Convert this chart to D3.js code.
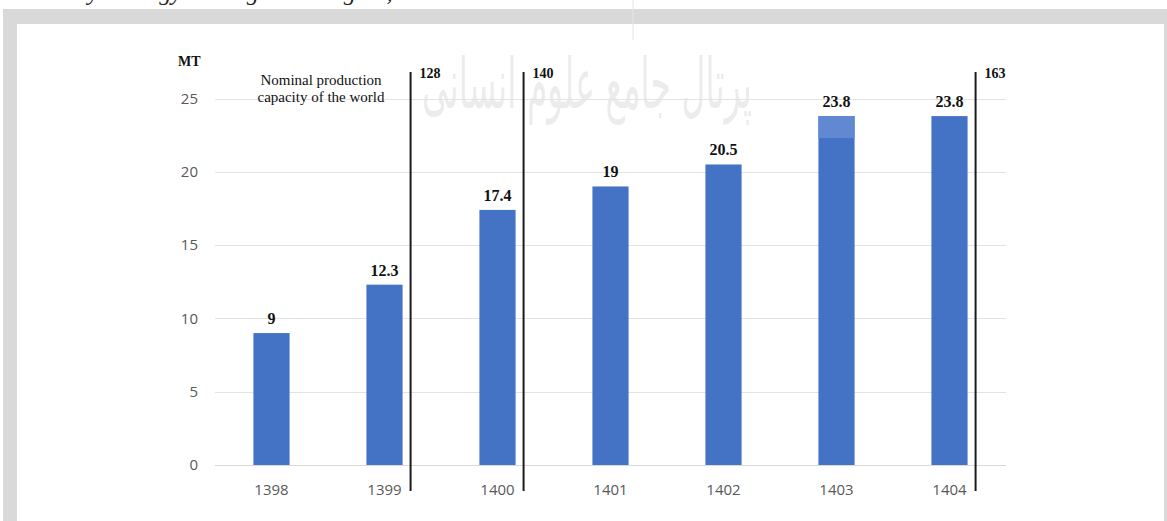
<!DOCTYPE html>
<html>
<head>
<meta charset="utf-8">
<script src="https://cdn.jsdelivr.net/npm/d3@7"></script>
<style>
  html, body { margin: 0; padding: 0; background: #fff; }
  svg { display: block; }
</style>
</head>
<body>
<svg id="chart" width="1167" height="521"></svg>
<script>
// ---- data ----
const years = ["1398", "1399", "1400", "1401", "1402", "1403", "1404"];
const production = [9, 12.3, 17.4, 19, 20.5, 23.8, 23.8];
const lighterFrom = [null, null, null, null, null, 22.3, null]; // lighter top segment start
const yTicks = [0, 5, 10, 15, 20, 25];
const capacityYears = ["1399", "1400", "1404"];
const capacityLabels = ["128", "140", "163"];
const unitLabel = "MT";
const noteLines = ["Nominal production", "capacity of the world"];

// ---- layout ----
const svg = d3.select("#chart");
const W = 1167, H = 521;

// page frame
svg.append("rect").attr("x", 0).attr("y", 0).attr("width", W).attr("height", H).attr("fill", "#fff");
svg.append("rect").attr("x", 3).attr("y", 9).attr("width", W - 3).attr("height", H - 9).attr("fill", "#d9d9d9");
svg.append("rect").attr("x", 17).attr("y", 24).attr("width", 1147).attr("height", H - 24).attr("fill", "#fff");

// clipped text of the page above (only descenders show)
svg.append("defs").append("clipPath").attr("id", "topclip")
  .append("rect").attr("x", 0).attr("y", 0).attr("width", W).attr("height", 9);
svg.append("text")
  .attr("clip-path", "url(#topclip)")
  .attr("x", 88).attr("y", 0)
  .attr("font-family", "Liberation Serif, serif")
  .attr("font-style", "italic")
  .attr("font-size", 24)
  .attr("fill", "#222")
  .text("y strategy making in the region, ");

// watermark
svg.append("text")
  .attr("x", 587).attr("y", 108)
  .attr("text-anchor", "middle")
  .attr("direction", "rtl")
  .attr("font-family", "DejaVu Sans, sans-serif")
  .attr("font-size", 70)
  .attr("fill", "#ececec")
  .attr("textLength", 330)
  .attr("lengthAdjust", "spacingAndGlyphs")
  .text("پرتال جامع علوم انسانی");
svg.append("line").attr("x1", 633).attr("x2", 633).attr("y1", 0).attr("y2", 40)
  .attr("stroke", "#e4e4e4").attr("stroke-width", 1);

const plot = { left: 215, right: 1006, top: 98.5, bottom: 465 };

const x = d3.scaleBand().domain(years).range([plot.left, plot.right]).paddingInner(0.68).paddingOuter(0.34);
const y = d3.scaleLinear().domain([0, 25]).range([plot.bottom, plot.top]);

// gridlines
svg.append("g").selectAll("line").data(yTicks).join("line")
  .attr("x1", plot.left).attr("x2", plot.right)
  .attr("y1", d => Math.round(y(d)) + 0.5).attr("y2", d => Math.round(y(d)) + 0.5)
  .attr("stroke", d => d === 0 ? "#d9d9d9" : "#e3e3e3").attr("stroke-width", 1);

// y axis labels
const yAxis = d3.axisLeft(y).tickValues(yTicks).tickSize(0).tickPadding(0);
const gy = svg.append("g").attr("transform", `translate(198,0)`).call(yAxis);
gy.select(".domain").remove();
gy.selectAll("text")
  .attr("font-family", "Open Sans, sans-serif").attr("font-size", 15).attr("fill", "#595959");

// x axis labels
const xAxis = d3.axisBottom(x).tickSize(0).tickPadding(0);
const gx = svg.append("g").attr("transform", `translate(0,${plot.bottom + 19})`).call(xAxis);
gx.select(".domain").remove();
gx.selectAll("text")
  .attr("font-family", "Open Sans, sans-serif").attr("font-size", 15).attr("fill", "#595959");

// bars
const bars = years.map((yr, i) => ({ yr, v: production[i], lf: lighterFrom[i] }));
svg.append("g").selectAll("rect").data(bars).join("rect")
  .attr("x", d => x(d.yr)).attr("width", x.bandwidth())
  .attr("y", d => y(d.v)).attr("height", d => y(0) - y(d.v))
  .attr("fill", "#4472c4");
svg.append("g").selectAll("rect").data(bars.filter(d => d.lf !== null)).join("rect")
  .attr("x", d => x(d.yr)).attr("width", x.bandwidth())
  .attr("y", d => y(d.v)).attr("height", d => y(d.lf) - y(d.v))
  .attr("fill", "#6189d2");

// value labels
svg.append("g").selectAll("text").data(bars).join("text")
  .attr("x", d => x(d.yr) + x.bandwidth() / 2)
  .attr("y", d => y(d.v) - 9)
  .attr("text-anchor", "middle")
  .attr("font-family", "Liberation Serif, serif").attr("font-weight", "bold")
  .attr("font-size", 16).attr("fill", "#111")
  .text(d => d.v);

// capacity lines
const caps = capacityYears.map((yr, i) => ({ yr, label: capacityLabels[i] }));
const capX = d => x(d.yr) + x.bandwidth() + 8;
svg.append("g").selectAll("line").data(caps).join("line")
  .attr("x1", capX).attr("x2", capX)
  .attr("y1", 72).attr("y2", 491)
  .attr("stroke", "#1a1a1a").attr("stroke-width", 2);
svg.append("g").selectAll("text").data(caps).join("text")
  .attr("x", d => capX(d) + 9).attr("y", 78)
  .attr("font-family", "Liberation Serif, serif").attr("font-weight", "bold")
  .attr("font-size", 14).attr("fill", "#111")
  .text(d => d.label);

// unit label
svg.append("text").attr("x", 178).attr("y", 66)
  .attr("font-family", "Liberation Serif, serif").attr("font-weight", "bold")
  .attr("font-size", 14).attr("fill", "#111").text(unitLabel);

// note
svg.append("g").selectAll("text").data(noteLines).join("text")
  .attr("x", 321).attr("y", (d, i) => 85 + i * 17)
  .attr("text-anchor", "middle")
  .attr("font-family", "Liberation Serif, serif")
  .attr("font-size", 15).attr("fill", "#111")
  .text(d => d);
</script>
</body>
</html>
